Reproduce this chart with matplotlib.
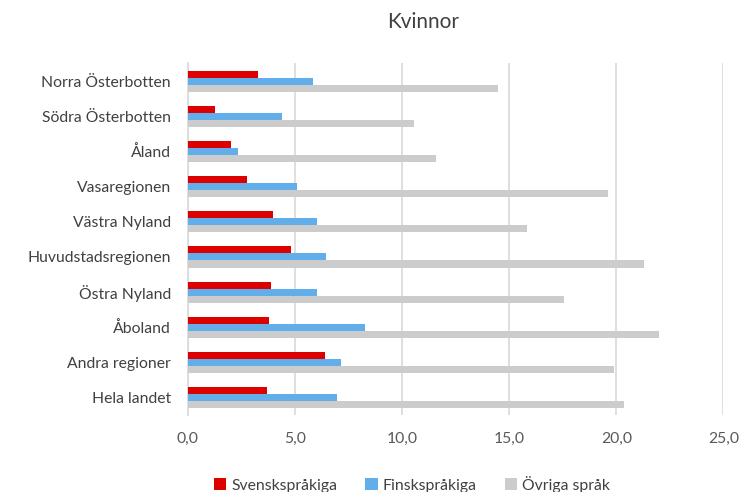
import matplotlib
matplotlib.use("Agg")
import matplotlib.pyplot as plt
import numpy as np

plt.rcParams["font.family"] = ["Lato", "DejaVu Sans"]

regions = ["Norra Österbotten", "Södra Österbotten", "Åland", "Vasaregionen",
           "Västra Nyland", "Huvudstadsregionen", "Östra Nyland", "Åboland",
           "Andra regioner", "Hela landet"]
svensk = [3.26, 1.27, 2.02, 2.78, 4.0, 4.81, 3.87, 3.77, 6.41, 3.71]
finsk = [5.85, 4.41, 2.33, 5.12, 6.01, 6.46, 6.01, 8.29, 7.15, 6.95]
ovriga = [14.5, 10.55, 11.6, 19.59, 15.85, 21.28, 17.54, 22.0, 19.89, 20.34]
series_names = ["Svenskspråkiga", "Finskspråkiga", "Övriga språk"]
colors = ["#DD0000", "#62AEEB", "#CCCCCC"]
xticks = [0, 5, 10, 15, 20, 25]

fig = plt.figure(figsize=(7.42, 4.92), dpi=100)
ax = fig.add_axes([0.253, 0.156, 0.722, 0.715])

y = np.arange(len(regions))
h = 0.2
for i, (vals, name, c) in enumerate(zip([svensk, finsk, ovriga], series_names, colors)):
    ax.barh(y + (i - 1) * h, vals, height=h, color=c, label=name, zorder=3)

ax.set_ylim(len(regions) - 0.5, -0.5)
ax.set_yticks(y)
ax.set_yticklabels(regions, fontsize=11.3, color="#404040")
ax.set_xlim(0, 25)
ax.set_xticks(xticks)
ax.set_xticklabels([f"{t:.1f}".replace(".", ",") for t in xticks], fontsize=11.3, color="#595959")
ax.tick_params(axis="y", length=0, pad=12)
ax.tick_params(axis="x", length=0, pad=12)
ax.grid(axis="x", color="#D9D9D9", linewidth=1.2, zorder=0)
for s in ["top", "right", "bottom"]:
    ax.spines[s].set_visible(False)
ax.spines["left"].set_color("#D9D9D9")
ax.spines["left"].set_linewidth(1.2)

fig.text(0.57, 0.955, "Kvinnor", ha="center", va="center", fontsize=15, color="#404040")

fig.legend(loc="center", bbox_to_anchor=(0.555, 0.016), ncol=3, frameon=False,
           fontsize=11.3, handlelength=0.8, handleheight=0.8, handletextpad=0.3,
           columnspacing=1.8, labelcolor="#404040")

fig.savefig("out.png", dpi=100)
